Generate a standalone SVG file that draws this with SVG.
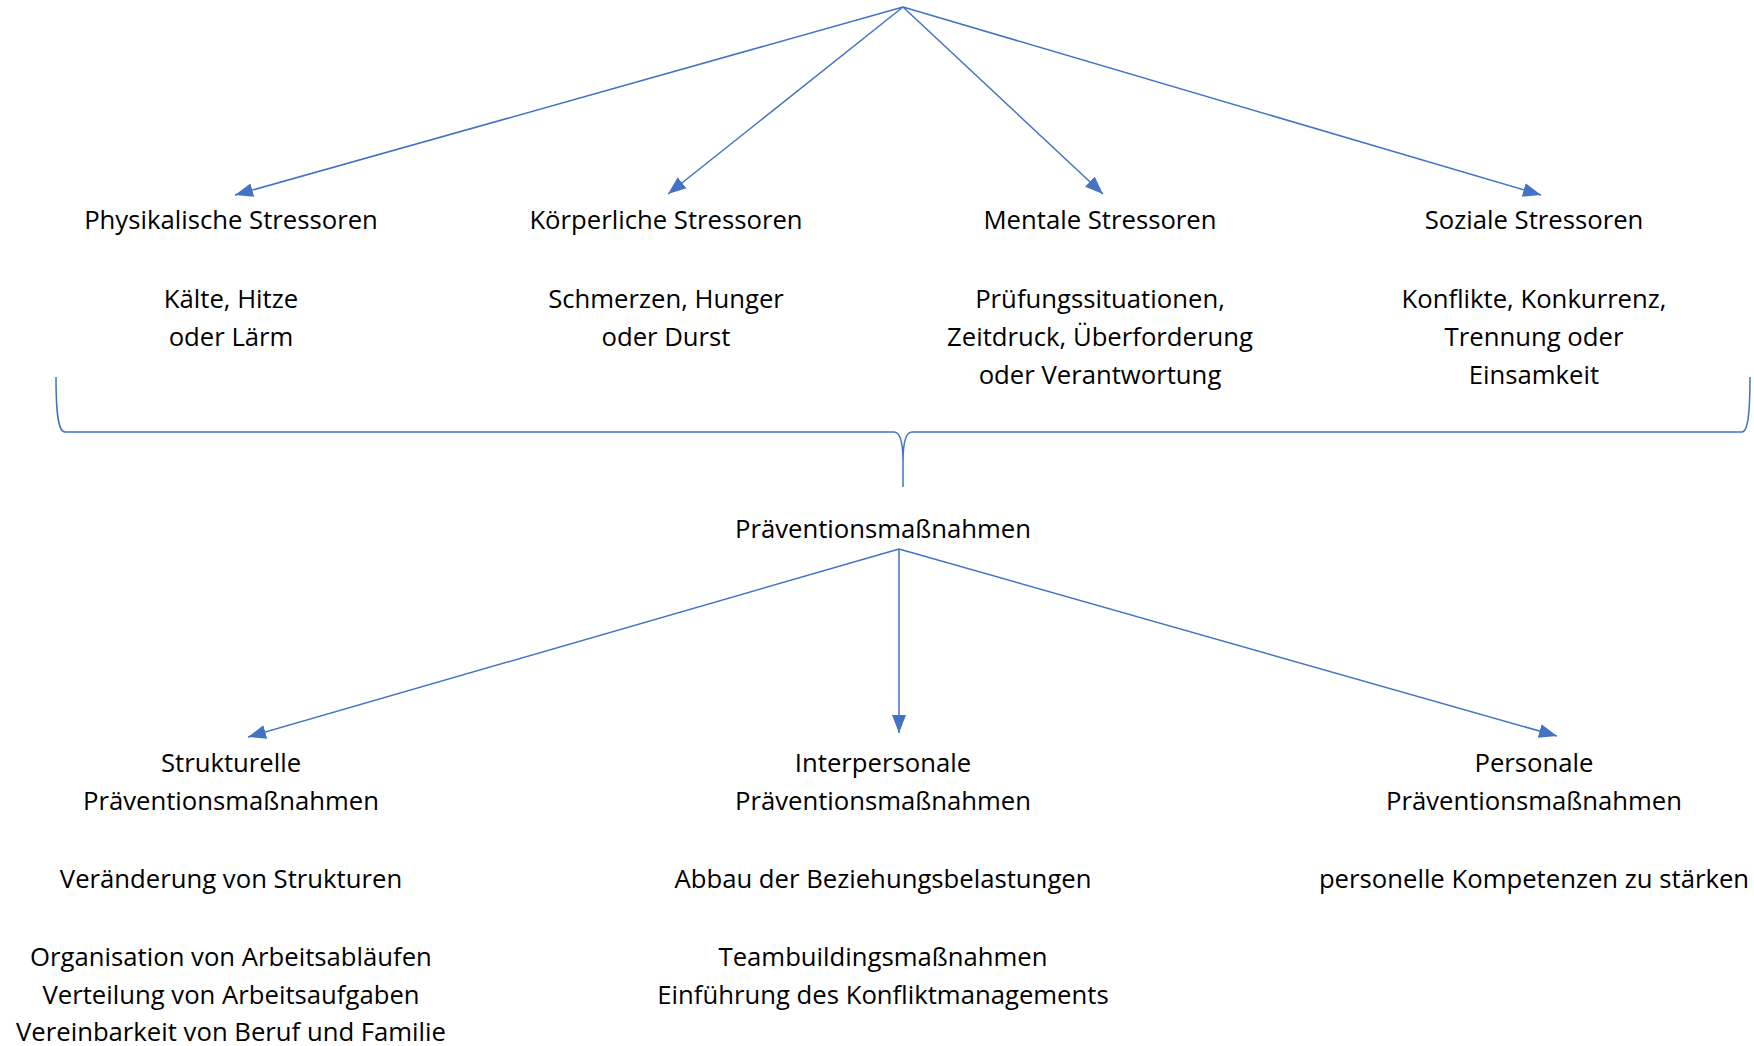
<svg xmlns="http://www.w3.org/2000/svg" width="1754" height="1046" viewBox="0 0 1754 1046">
<style>
text{font-family:"Open Sans","Noto Sans","Liberation Sans",sans-serif;font-size:25.7px;fill:#000;text-anchor:middle}
.ln{stroke:#4472C4;stroke-width:1.5;fill:none}
</style>
<defs>
<marker id="ah" markerUnits="userSpaceOnUse" markerWidth="20" markerHeight="16" viewBox="0 0 20 16" refX="18" refY="8" orient="auto">
<path d="M0,1 L18,8 L0,15 Z" fill="#4472C4"/>
</marker>
</defs>
<rect width="1754" height="1046" fill="#fff"/>
<g id="connectors">
<line class="ln" x1="903" y1="7" x2="235" y2="195" marker-end="url(#ah)"/>
<line class="ln" x1="903" y1="7" x2="668" y2="194" marker-end="url(#ah)"/>
<line class="ln" x1="903" y1="7" x2="1103" y2="194" marker-end="url(#ah)"/>
<line class="ln" x1="903" y1="7" x2="1541" y2="195" marker-end="url(#ah)"/>
<line class="ln" x1="899" y1="549" x2="248" y2="737" marker-end="url(#ah)"/>
<line class="ln" x1="899" y1="549" x2="899" y2="733" marker-end="url(#ah)"/>
<line class="ln" x1="899" y1="549" x2="1557" y2="736" marker-end="url(#ah)"/>
</g>
<g id="brace">
<path class="ln" d="M56,377 C56,412 58,432 65,432 L894,432 C900,432 903,442 903,462 L903,487 M903,462 C903,442 906,432 912,432 L1742,432 C1748,432 1750,412 1750,377"/>
</g>
<g id="physikalisch">
<text x="231" y="229">Physikalische Stressoren</text>
<text x="231" y="308">Kälte, Hitze</text>
<text x="231" y="346">oder Lärm</text>
</g>
<g id="koerperlich">
<text x="666" y="229">Körperliche Stressoren</text>
<text x="666" y="308">Schmerzen, Hunger</text>
<text x="666" y="346">oder Durst</text>
</g>
<g id="mental">
<text x="1100" y="229">Mentale Stressoren</text>
<text x="1100" y="308">Prüfungssituationen,</text>
<text x="1100" y="346">Zeitdruck, Überforderung</text>
<text x="1100" y="384">oder Verantwortung</text>
</g>
<g id="sozial">
<text x="1534" y="229">Soziale Stressoren</text>
<text x="1534" y="308">Konflikte, Konkurrenz,</text>
<text x="1534" y="346">Trennung oder</text>
<text x="1534" y="384">Einsamkeit</text>
</g>
<g id="praevention">
<text x="883" y="538">Präventionsmaßnahmen</text>
</g>
<g id="strukturell">
<text x="231" y="772">Strukturelle</text>
<text x="231" y="810">Präventionsmaßnahmen</text>
<text x="231" y="888">Veränderung von Strukturen</text>
<text x="231" y="966">Organisation von Arbeitsabläufen</text>
<text x="231" y="1004">Verteilung von Arbeitsaufgaben</text>
<text x="231" y="1041">Vereinbarkeit von Beruf und Familie</text>
</g>
<g id="interpersonal">
<text x="883" y="772">Interpersonale</text>
<text x="883" y="810">Präventionsmaßnahmen</text>
<text x="883" y="888">Abbau der Beziehungsbelastungen</text>
<text x="883" y="966">Teambuildingsmaßnahmen</text>
<text x="883" y="1004">Einführung des Konfliktmanagements</text>
</g>
<g id="personal">
<text x="1534" y="772">Personale</text>
<text x="1534" y="810">Präventionsmaßnahmen</text>
<text x="1534" y="888">personelle Kompetenzen zu stärken</text>
</g>
</svg>
